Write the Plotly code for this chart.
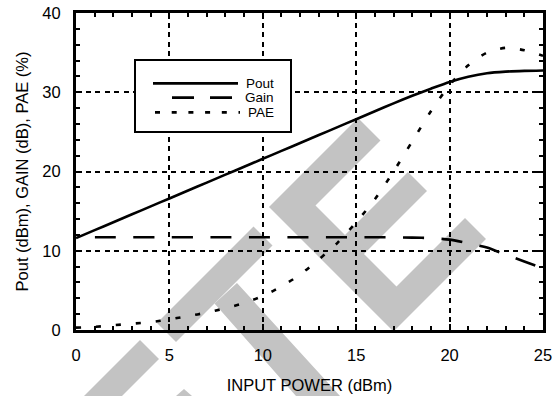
import plotly.graph_objects as go

# ---- data ----
input_power = [0, 1, 2, 3, 4, 5, 6, 7, 8, 9, 10, 11, 12, 13, 14, 15, 16, 17, 18, 19, 20, 21, 22, 23, 24, 25]
pout = [11.6, 12.6, 13.6, 14.6, 15.6, 16.6, 17.6, 18.6, 19.6, 20.6, 21.6, 22.6, 23.6, 24.6, 25.6,
        26.6, 27.6, 28.6, 29.55, 30.45, 31.3, 31.95, 32.4, 32.6, 32.7, 32.75]
gain = [11.7, 11.7, 11.7, 11.7, 11.7, 11.7, 11.7, 11.7, 11.7, 11.7, 11.7, 11.7, 11.7, 11.7, 11.7,
        11.7, 11.7, 11.7, 11.65, 11.6, 11.4, 10.95, 10.4, 9.5, 8.65, 7.8]
pae = [0.3, 0.4, 0.6, 0.8, 1.0, 1.35, 1.75, 2.2, 2.75, 3.4, 4.3, 5.5, 7.0, 8.9, 11.0,
       13.6, 16.5, 20.0, 23.8, 27.6, 30.9, 33.4, 35.0, 35.6, 35.3, 34.6]
series_names = ["Pout", "Gain", "PAE"]
x_ticks = [0, 5, 10, 15, 20, 25]
y_ticks = [0, 10, 20, 30, 40]

FONT = "Liberation Sans, Arial, Helvetica, sans-serif"
W, H = 554, 396
# plot area in window pixels: x 76..543, y 13..330
PL, PR, PT, PB = 76, 543, 13, 330
ML, MR, MT, MB = PL, W - PR, PT, H - PB
PW, PH = PR - PL, PB - PT


def px(xp):
    return (xp - PL) / PW


def py(yp):
    return (PB - yp) / PH


def path(points):
    return "M " + " L ".join(f"{px(a):.5f},{py(b):.5f}" for a, b in points) + " Z"


gain_dash = "0px,19px," + ",".join(["21px,17.5px"] * 14)

fig = go.Figure()
fig.add_trace(go.Scatter(x=input_power, y=pout, name=series_names[0], mode="lines",
                         line=dict(color="black", width=2.6, shape="spline", smoothing=0.6)))
fig.add_trace(go.Scatter(x=input_power, y=gain, name=series_names[1], mode="lines",
                         line=dict(color="black", width=2.6, dash=gain_dash, shape="spline", smoothing=0.6)))
fig.add_trace(go.Scatter(x=input_power, y=pae, name=series_names[2], mode="lines",
                         line=dict(color="black", width=2.6, dash="5px,15px", shape="spline", smoothing=0.8)))

# ---- watermark (grey "TE" logo, rotated) ----
GREY = "#c3c3c3"
wm = [
    [(157, 323), (253.5, 226.5), (272.5, 245.5), (176, 342)],
    [(237, 283), (214.5, 303.5), (296, 396), (300, 420), (360, 420), (340, 396)],
    [(269, 207), (358, 118), (380.5, 140.5), (315.5, 205.5), (345, 235), (408, 172), (427, 191),
     (364, 254), (396.5, 286.5), (465, 218), (486, 239), (393.5, 331.5)],
    [(140, 340), (159, 359), (122, 396), (84, 396)],
    [(176, 396), (184, 389), (192, 396)],
]
shapes = []
for poly in wm:
    shapes.append(dict(type="path", xref="paper", yref="paper", path=path(poly),
                       fillcolor=GREY, line=dict(width=0), layer="below"))

# ---- legend box (drawn manually to match the original layout) ----
shapes.append(dict(type="rect", xref="paper", yref="paper", x0=px(135), x1=px(291), y0=py(132), y1=py(60),
                   fillcolor="white", line=dict(color="black", width=2), layer="above"))
shapes.append(dict(type="line", xref="paper", yref="paper", x0=px(153), x1=px(238), y0=py(83.3), y1=py(83.3),
                   line=dict(color="black", width=2.8), layer="above"))
shapes.append(dict(type="line", xref="paper", yref="paper", x0=px(172), x1=px(233), y0=py(97.7), y1=py(97.7),
                   line=dict(color="black", width=2.8, dash="22px,16px"), layer="above"))
shapes.append(dict(type="line", xref="paper", yref="paper", x0=px(155), x1=px(240), y0=py(112.3), y1=py(112.3),
                   line=dict(color="black", width=2.8, dash="5px,11.7px"), layer="above"))

annotations = []
for name, yy in zip(series_names, [83.3, 97.7, 112.3]):
    annotations.append(dict(text=name, xref="paper", yref="paper", x=px(276), y=py(yy),
                            xanchor="right", yanchor="middle", showarrow=False,
                            font=dict(family=FONT, size=13.5, color="black")))

axis_common = dict(
    showline=True, linecolor="black", linewidth=3, mirror="ticks",
    ticks="inside", ticklen=6, tickwidth=2, tickcolor="black",
    showgrid=True, gridcolor="black", gridwidth=2, griddash="5px,4.5px",
    zeroline=False, tickfont=dict(family=FONT, size=16.5, color="black"),
    ticklabeloverflow="allow", automargin=False,
)

fig.update_layout(
    width=W, height=H,
    margin=dict(l=ML, r=MR, t=MT, b=MB, pad=0),
    paper_bgcolor="white", plot_bgcolor="white",
    showlegend=False,
    font=dict(family=FONT, color="black"),
    shapes=shapes, annotations=annotations,
    xaxis=dict(range=[0, 25], tickvals=x_ticks, ticktext=[str(v) for v in x_ticks],
               minor=dict(dtick=1, ticks="inside", ticklen=4, tickwidth=2, tickcolor="black", showgrid=False),
               title=dict(text="INPUT POWER (dBm)", font=dict(family=FONT, size=16.5, color="black"), standoff=17),
               ticklabelstandoff=8, **axis_common),
    yaxis=dict(range=[0, 40], tickvals=y_ticks, ticktext=[str(v) for v in y_ticks],
               minor=dict(dtick=2, ticks="inside", ticklen=4, tickwidth=2, tickcolor="black", showgrid=False),
               title=dict(text="Pout (dBm), GAIN (dB), PAE (%)", font=dict(family=FONT, size=16.5, color="black"),
                          standoff=10),
               ticklabelstandoff=9, **axis_common),
)

# the page body gets no margin so that the 554x396 figure fills the window exactly
fig.write_html("out.html", config={"displayModeBar": False},
               post_script="document.body.style.margin='0px';")
